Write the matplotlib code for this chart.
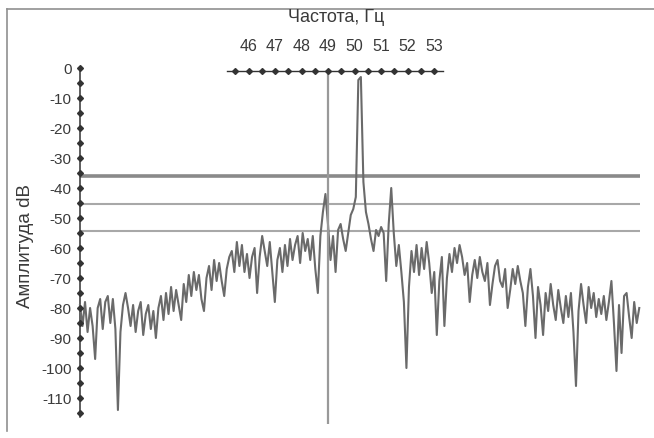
import numpy as np
import matplotlib
matplotlib.use("Agg")
import matplotlib.pyplot as plt
from matplotlib.lines import Line2D

plt.rcParams['font.family'] = ['Liberation Sans', 'DejaVu Sans']

# ---- data ----
freq_start = 39.64   # Hz
freq_step = 0.0955   # Hz
amplitude_db = [
    -79, -86, -78, -88, -80, -86, -97, -80, -77, -87,
    -78, -76, -85, -77, -87, -114, -88, -79, -75, -80,
    -86, -79, -88, -81, -78, -89, -82, -79, -87, -81,
    -90, -80, -76, -84, -75, -82, -73, -81, -74, -79,
    -84, -72, -78, -69, -76, -68, -74, -69, -77, -81,
    -70, -66, -74, -64, -71, -65, -71, -76, -67, -63,
    -61, -68, -58, -66, -59, -68, -62, -70, -63, -60,
    -75, -63, -56, -61, -66, -58, -68, -78, -64, -60,
    -68, -59, -66, -57, -64, -59, -56, -65, -55, -61,
    -57, -64, -56, -67, -75, -56, -48, -42, -52, -64,
    -56, -68, -54, -52, -57, -61, -55, -49, -47, -43,
    -4, -3, -38, -48, -52, -57, -61, -54, -56, -53,
    -55, -71, -52, -40, -55, -66, -59, -68, -78, -100,
    -73, -61, -68, -59, -69, -60, -67, -58, -65, -75,
    -68, -89, -71, -63, -86, -70, -62, -68, -60, -65,
    -59, -63, -69, -65, -78, -69, -64, -70, -63, -68,
    -71, -65, -79, -72, -66, -64, -71, -73, -67, -80,
    -74, -67, -72, -66, -71, -75, -86, -73, -67, -76,
    -90, -73, -79, -89, -75, -81, -72, -79, -84, -74,
    -80, -85, -76, -83, -75, -88, -106, -81, -72, -79,
    -85, -73, -80, -75, -83, -77, -82, -76, -84, -78,
    -71, -85, -101, -79, -95, -76, -75, -83, -90, -78,
    -85, -80,
]
freq = freq_start + freq_step * np.arange(len(amplitude_db))

threshold_levels = [-36, -45.5, -54.5]
threshold_widths = [2.6, 1.5, 1.5]
threshold_colors = ['#8a8a8a', '#a8a8a8', '#a8a8a8']
marker_freq = 49.0
freq_tick_labels = [46, 47, 48, 49, 50, 51, 52, 53]
freq_marks = [45.5 + 0.5 * k for k in range(16)]
freq_line_range = (45.2, 53.35)
y_major = list(range(0, -111, -10))
y_marks = list(range(0, -116, -5))

# ---- figure ----
W, H = 654, 439
fig = plt.figure(figsize=(W / 100, H / 100), dpi=100)
fig.patch.set_facecolor('white')

px_left, px_right, py_top, py_bot = 80, 645, 66, 425
ax = fig.add_axes([px_left / W, 1 - py_bot / H,
                   (px_right - px_left) / W, (py_bot - py_top) / H])
f_at = lambda px: 49 + (px - 328) / 26.5
ax.set_xlim(f_at(px_left), f_at(px_right))
ax.set_ylim(-(py_bot - 69) / 3.0, -(py_top - 69) / 3.0)

for s in ['top', 'right', 'bottom']:
    ax.spines[s].set_visible(False)
ax.spines['left'].set_bounds(-116.5, 0.5)
ax.spines['left'].set_color('#333333')
ax.spines['left'].set_linewidth(1.1)
ax.set_xticks([])
ax.set_yticks(y_major)
ax.set_yticklabels([str(v) for v in y_major], fontsize=11, color='#3a3a3a')
ax.tick_params(axis='y', length=0, pad=6)
x_axis = ax.get_xlim()[0]
ax.plot([x_axis] * len(y_marks), y_marks, linestyle='none', marker='D',
        ms=3.0, color='#333333', clip_on=False, zorder=5)

# threshold lines
ax.hlines(threshold_levels, f_at(80), f_at(640), colors=threshold_colors,
          linewidths=threshold_widths, zorder=2)

# spectrum
ax.plot(freq, amplitude_db, color='#6a6a6a', lw=1.5, zorder=3, clip_on=False)

# vertical marker at 49 Hz
ax.vlines(marker_freq, -119, -1, colors='#999999', linewidth=1.6, zorder=4)

# top frequency axis
y_top_axis = -1.0
ax.plot(list(freq_line_range), [y_top_axis] * 2, color='#333333', lw=1.0,
        clip_on=False, zorder=5)
ax.plot(freq_marks, [y_top_axis] * len(freq_marks), linestyle='none', marker='D',
        ms=3.0, color='#333333', clip_on=False, zorder=5)
for f in freq_tick_labels:
    ax.text(f, 7.6, str(f), ha='center', va='center', fontsize=11.5,
            color='#3a3a3a', clip_on=False)
ax.text(49.3, 17.0, 'Частота, Гц', ha='center', va='center', fontsize=13,
        color='#3a3a3a', clip_on=False)

# y label
fig.text(25 / W, 1 - 246 / H, 'Амплитуда dB', rotation=90, ha='center', va='center',
         fontsize=13.5, color='#3a3a3a')

# border
fig.add_artist(Line2D([7 / W, 1.0], [1 - 10 / H, 1 - 10 / H], color='#909090', lw=1.2,
                      transform=fig.transFigure, zorder=0))
fig.add_artist(Line2D([7 / W, 7 / W], [1 - 10 / H, 1 - 432 / H], color='#909090', lw=1.2,
                      transform=fig.transFigure, zorder=0))

fig.savefig('out.png', dpi=100, facecolor='white')
